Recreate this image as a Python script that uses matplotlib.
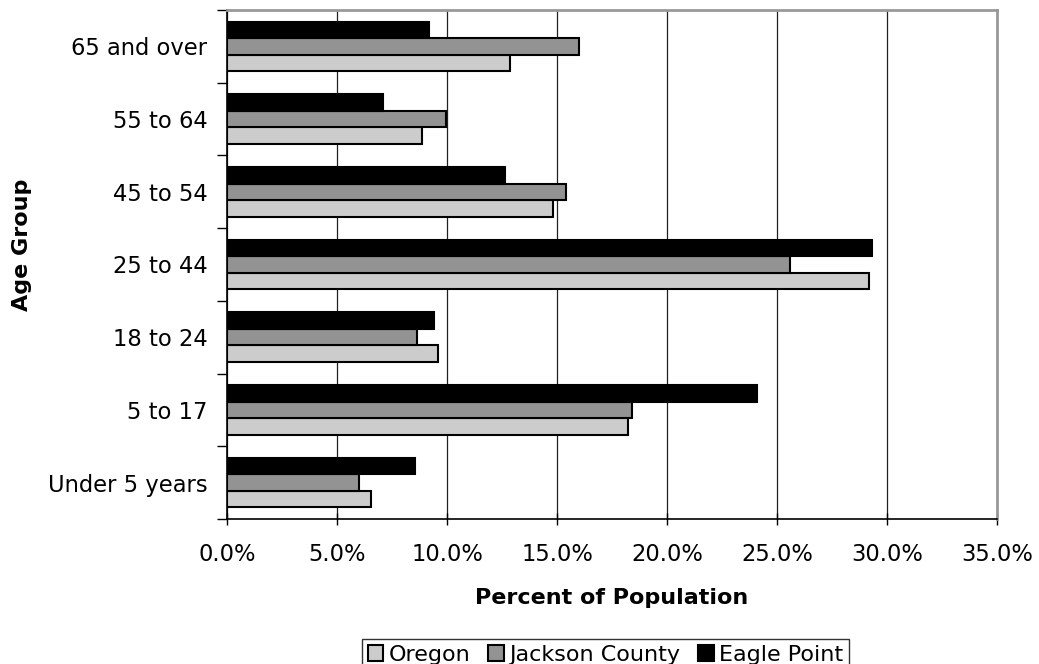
import numpy as np
import matplotlib.pyplot as plt

age_groups = ['Under 5 years', '5 to 17', '18 to 24', '25 to 44',
              '45 to 54', '55 to 64', '65 and over']
oregon = [6.53, 18.22, 9.58, 29.2, 14.80, 8.86, 12.84]
jackson = [5.98, 18.42, 8.65, 25.58, 15.42, 9.94, 16.0]
eagle = [8.53, 24.1, 9.42, 29.3, 12.62, 7.09, 9.17]

plt.rcParams['font.family'] = 'DejaVu Sans'

fig = plt.figure(figsize=(10.39, 6.64), dpi=100)
ax = fig.add_axes([0.2185, 0.2184, 0.7411, 0.7666])

y = np.arange(len(age_groups))
h = 0.227
ax.barh(y - h, oregon, height=h, color='#cccccc', edgecolor='black',
        linewidth=1.5, label='Oregon', zorder=3)
ax.barh(y, jackson, height=h, color='#939393', edgecolor='black',
        linewidth=1.5, label='Jackson County', zorder=3)
ax.barh(y + h, eagle, height=h, color='black', edgecolor='black',
        linewidth=1.5, label='Eagle Point', zorder=3)

ax.set_xlim(0, 35)
ax.set_ylim(-0.5, len(age_groups) - 0.5)
ax.set_xticks(np.arange(0, 36, 5))
ax.set_xticklabels([f'{v:.1f}%' for v in np.arange(0, 36, 5)])
ax.set_yticks(y)
ax.set_yticklabels(age_groups)
ax.set_yticks(np.arange(-0.5, len(age_groups), 1), minor=True)

ax.tick_params(axis='y', which='major', length=0, pad=14, labelsize=16.3)
ax.tick_params(axis='y', which='minor', length=7, width=1, direction='out')
ax.tick_params(axis='x', which='major', length=8, width=1, direction='inout',
               pad=13, labelsize=16.3)

ax.xaxis.grid(True, color='#202020', linewidth=0.9, zorder=0)
ax.set_axisbelow(True)

for side in ['top', 'right']:
    ax.spines[side].set_color('#999999')
    ax.spines[side].set_linewidth(2)
for side in ['left', 'bottom']:
    ax.spines[side].set_color('black')
    ax.spines[side].set_linewidth(1.2)

ax.set_xlabel('Percent of Population', fontsize=16, fontweight='bold', labelpad=16)
fig.text(0.021, 0.632, 'Age Group', rotation=90, fontsize=16,
         fontweight='bold', ha='center', va='center')

handles, labels = ax.get_legend_handles_labels()
leg = fig.legend(handles, labels, loc='upper center', bbox_to_anchor=(0.583, 0.0377),
                 ncol=3, fontsize=16, frameon=True, fancybox=False,
                 edgecolor='black', handlelength=0.7, handleheight=0.7,
                 handletextpad=0.25, columnspacing=0.8, borderpad=0.25,
                 borderaxespad=0)
leg.get_frame().set_linewidth(1.0)

fig.savefig('out.png', dpi=100)
